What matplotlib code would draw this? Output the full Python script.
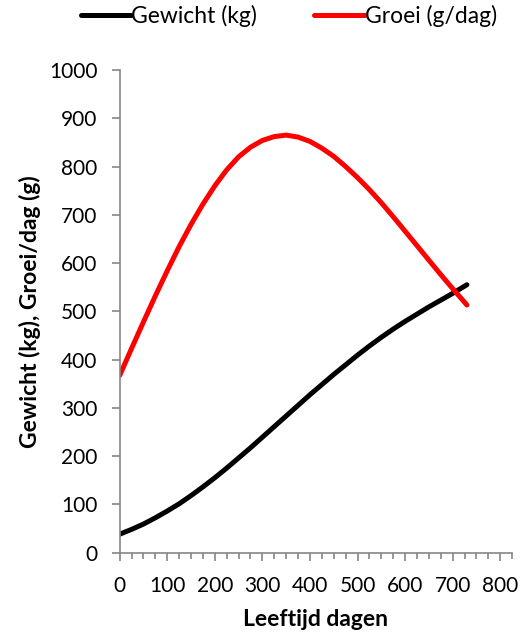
import matplotlib
matplotlib.use("Agg")
import matplotlib.pyplot as plt
from matplotlib.ticker import MultipleLocator

plt.rcParams['font.family'] = ['Lato', 'DejaVu Sans']

# Data (every 25 days)
dagen = [0, 25, 50, 75, 100, 125, 150, 175, 200, 225, 250, 275, 300, 325, 350,
         375, 400, 425, 450, 475, 500, 525, 550, 575, 600, 625, 650, 675, 700, 730]
gewicht = [38, 48, 59, 72, 86, 101, 118, 136, 155, 175, 196, 217, 239, 261, 283,
           305, 327, 348, 369, 389, 409, 428, 446, 463, 479, 494, 509, 523, 537, 555]
groei = [367, 423, 478, 532, 584, 634, 680, 722, 760, 793, 820, 840, 854, 862, 865,
         861, 852, 838, 821, 800, 777, 752, 725, 696, 666, 636, 606, 576, 547, 513]

labels = ['Gewicht (kg)', 'Groei (g/dag)']
x_ticks = [0, 100, 200, 300, 400, 500, 600, 700, 800]
y_ticks = [0, 100, 200, 300, 400, 500, 600, 700, 800, 900, 1000]

fig = plt.figure(figsize=(5.22, 6.34), dpi=100)
ax = fig.add_axes([0.2293, 0.1285, 0.7517, 0.7611])

ax.plot(dagen, gewicht, color='black', lw=3.6, solid_capstyle='round',
        solid_joinstyle='round', label=labels[0])
ax.plot(dagen, groei, color='#ff0000', lw=3.6, solid_capstyle='round',
        solid_joinstyle='round', label=labels[1])

ax.set_xlim(0, 825)
ax.set_ylim(0, 1000)
ax.set_xticks(x_ticks)
ax.set_yticks(y_ticks)
ax.xaxis.set_minor_locator(MultipleLocator(25))

grey = '#868686'
for side in ['top', 'right']:
    ax.spines[side].set_visible(False)
for side in ['left', 'bottom']:
    ax.spines[side].set_color(grey)
    ax.spines[side].set_linewidth(1.2)

ax.tick_params(axis='both', which='both', direction='out', colors=grey,
               labelcolor='black', labelsize=15, width=1.2)
ax.tick_params(axis='x', which='major', length=6, pad=11)
ax.tick_params(axis='x', which='minor', length=4)
ax.tick_params(axis='y', which='major', length=6, pad=10)

ax.set_xlabel('Leeftijd dagen', fontsize=16.5, fontweight='bold', labelpad=9)
ax.set_ylabel('Gewicht (kg), Groei/dag (g)', fontsize=16.5, fontweight='bold', labelpad=6)

fig.legend(loc='upper center', bbox_to_anchor=(0.553, 1.025), ncol=2, frameon=False,
           fontsize=16.5, handlelength=2.2, handletextpad=0.0, columnspacing=2.5)

fig.savefig('out.png', dpi=100)
